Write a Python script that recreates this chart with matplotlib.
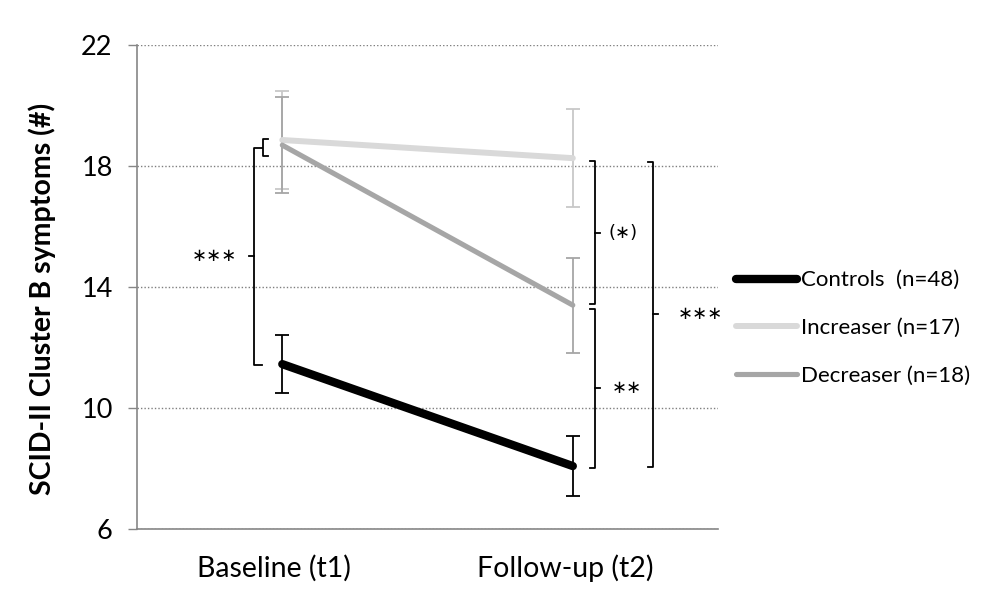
import matplotlib.pyplot as plt
from matplotlib.transforms import ScaledTranslation

plt.rcParams['font.family'] = ['Lato', 'DejaVu Sans']

timepoints = ["Baseline (t1)", "Follow-up (t2)"]
groups = ["Controls  (n=48)", "Increaser (n=17)", "Decreaser (n=18)"]
controls = [11.45, 8.08]
controls_se = [0.97, 1.0]
increaser = [18.86, 18.26]
increaser_se = [1.62, 1.62]
decreaser = [18.69, 13.40]
decreaser_se = [1.58, 1.57]

xs = [0.5, 1.5]

fig = plt.figure(figsize=(10.04, 6.02), dpi=100)
ax = fig.add_axes([0.1365, 0.1213, 0.5787, 0.8039])

ax.set_xlim(0, 2)
ax.set_ylim(6, 22)
ax.set_yticks([6, 10, 14, 18, 22])
ax.set_xticks(xs)
ax.set_xticklabels(timepoints, fontsize=20.5)
ax.tick_params(axis="x", bottom=False, pad=15)
ax.tick_params(axis="y", length=6.5, width=1, color="#868686", labelsize=19.5, pad=11)
# labels sit a bit left of the points in the original
shift = ScaledTranslation(-8 / 100, 0, fig.dpi_scale_trans)
for lbl in ax.get_xticklabels():
    lbl.set_transform(lbl.get_transform() + shift)
for s in ["top", "right"]:
    ax.spines[s].set_visible(False)
for s in ["left", "bottom"]:
    ax.spines[s].set_color("#868686")
    ax.spines[s].set_linewidth(1.2)
ax.yaxis.grid(True, linestyle=(0, (1, 1.5)), color="#7f7f7f", linewidth=1)
ax.set_axisbelow(True)
ax.set_ylabel("SCID-II Cluster B symptoms (#)", fontsize=20.5, fontweight="bold")
ax.yaxis.set_label_coords(-0.14, 0.475)

styles = [
    (controls, controls_se, "black", "black", 6.0),
    (increaser, increaser_se, "#d9d9d9", "#c8c8c8", 4.3),
    (decreaser, decreaser_se, "#a6a6a6", "#a6a6a6", 3.7),
]
for (vals, se, col, ecol, lw), name in zip(styles, groups):
    ax.errorbar(xs, vals, yerr=se, fmt="none", ecolor=ecol, elinewidth=1.3,
                capsize=5, capthick=1.3, zorder=3)
    ax.plot(xs, vals, color=col, linewidth=lw, solid_capstyle="round", label=name, zorder=4)


def bracket(x, y0, y1, hook, tick, label, tx, fs=13):
    k = dict(color="black", linewidth=1.3, clip_on=False, zorder=5)
    ax.plot([x + hook, x, x, x + hook], [y0, y0, y1, y1], **k)
    ym = (y0 + y1) / 2
    ax.plot([x, x + tick], [ym, ym], **k)
    if label:
        ax.text(tx, ym, label, ha="center", va="center", fontsize=fs,
                family="DejaVu Sans", clip_on=False)
    return ym


# baseline comparisons
mid_small = bracket(0.434, increaser[0] + 0.03, decreaser[0] - 0.36, 0.017, 0, "", 0)
bracket(0.403, mid_small, controls[0] - 0.03, 0.027, -0.017, "\u2217\u2217\u2217", 0.268)

# follow-up comparisons
bracket(1.577, increaser[1] - 0.1, decreaser[1] + 0.03, -0.018, 0.017, "(\u2217)", 1.673)
bracket(1.577, decreaser[1] - 0.14, controls[1] - 0.05, -0.018, 0.017, "\u2217\u2217", 1.687)
bracket(1.776, increaser[1] - 0.12, controls[1] - 0.03, -0.018, 0.017, "\u2217\u2217\u2217", 1.938)

fig.legend(loc="center left", bbox_to_anchor=(0.713, 0.455), frameon=False,
           fontsize=16, handlelength=2.75, handletextpad=0.2, labelspacing=1.25)

plt.savefig("out.png")
